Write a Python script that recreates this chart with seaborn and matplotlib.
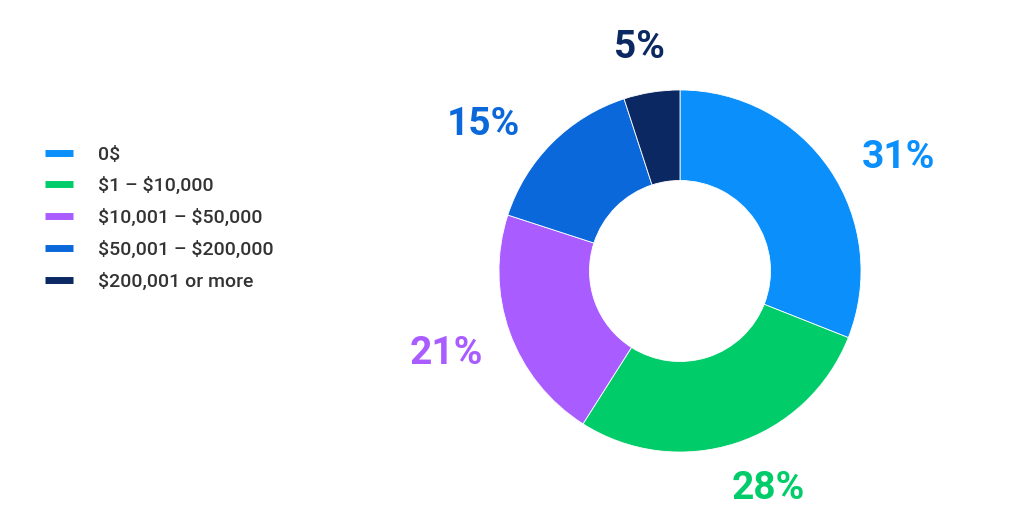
import matplotlib
matplotlib.use("Agg")
import matplotlib.pyplot as plt
import matplotlib.transforms as mtransforms
import seaborn as sns
from matplotlib.lines import Line2D

# Share of respondents by amount bracket
categories = ["0\\$", "\\$1 – \\$10,000", "\\$10,001 – \\$50,000", "\\$50,001 – \\$200,000", "\\$200,001 or more"]
shares = [31, 28, 21, 15, 5]
slice_colors = ["#0a8ffb", "#00cc6a", "#a95cff", "#0b68da", "#0b2862"]

sns.set_theme(style="white")
plt.rcParams["font.family"] = ["Roboto", "DejaVu Sans"]

palette = sns.color_palette(slice_colors)

fig = plt.figure(figsize=(10.24, 5.30), dpi=100)

# donut axes: radius 1 == 181 px, centred at (680, 259) px from bottom-left
ax = fig.add_axes([430 / 1024, 9 / 530, 500 / 1024, 500 / 530])
wedges, _, pct_texts = ax.pie(
  shares,
  colors=palette,
  startangle=90,
  counterclock=False,
  radius=1.0,
  autopct="%d%%",
  pctdistance=1.33,
  wedgeprops=dict(width=0.5, edgecolor="white", linewidth=0.6),
)

# small nudges (points) so the labels sit like the original layout
label_nudges = [(14, -16), (10, 8), (-5, -1), (-19, -17), (-2, -10)]
for txt, col, (dx, dy) in zip(pct_texts, palette, label_nudges):
  txt.set_color(col)
  txt.set_fontsize(28)
  txt.set_fontweight("bold")
  txt.set_transform(mtransforms.offset_copy(ax.transData, fig=fig, x=dx, y=dy, units="points"))

ax.set_xlim(-1.381, 1.381)
ax.set_ylim(-1.381, 1.381)
ax.set_aspect("equal")
ax.axis("off")

handles = [Line2D([0], [0], color=c, linewidth=5, solid_capstyle="butt") for c in palette]
fig.legend(
  handles,
  categories,
  loc="upper left",
  bbox_to_anchor=(27 / 1024, 1 - 128 / 530),
  frameon=False,
  handlelength=1.44,
  handletextpad=1.3,
  labelspacing=0.7,
  labelcolor="#333333",
  prop={"weight": "medium", "size": 14},
)

fig.savefig("out.png", dpi=100)
